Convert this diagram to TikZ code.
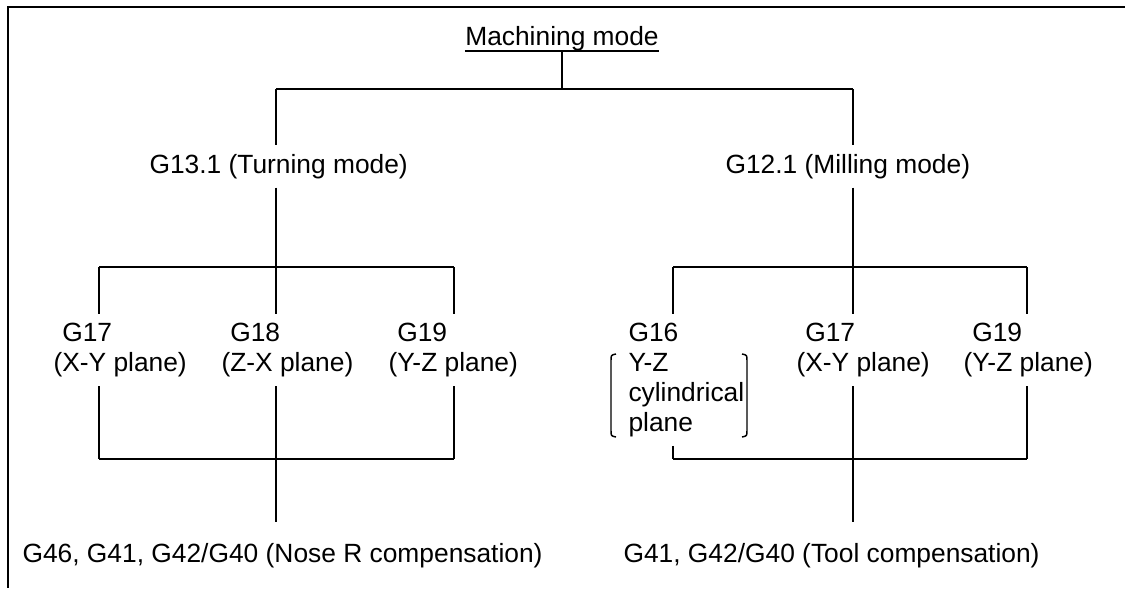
\documentclass[tikz,border=0pt]{standalone}
\usepackage{fontspec}
\setmainfont{Liberation Sans}

\begin{document}
\begin{tikzpicture}[x=0.013333cm, y=-0.013333cm,
  every node/.style={font=\fontsize{10}{11.34}\selectfont, inner xsep=0pt, inner ysep=3.3pt},
  plane/.style={anchor=north west, align=left},
  tree/.style={line width=0.55pt},
  busline/.style={line width=0.65pt},
  result/.style={anchor=base west, inner ysep=7.9pt}]
  \def\ytop{89}
  \def\yup{267}
  \def\ylow{459}
  \useasboundingbox (0,0) rectangle (1125,588);
  \draw[line width=0.8pt] (1125,7) -- (8,7) -- (8,588);
  \node[anchor=base, inner ysep=0pt] (mach) at (562,45) {Machining mode};
  \draw[tree] (mach.south west) -- (mach.south east);
  \node[anchor=base west] (turn) at (149,173) {G13.1 (Turning mode)};
  \node[anchor=base west] (mill) at (725,173) {G12.1 (Milling mode)};
  \coordinate (tl) at (276,\ytop);
  \coordinate (tr) at (853,\ytop);
  \draw[tree] (mach.south) -- (mach.south |- tl);
  \draw[busline] (tl) -- (tr);
  \draw[tree] (tl) -- (tl |- turn.north);
  \draw[tree] (tr) -- (tr |- mill.north);
  \node[plane] (tx) at (53,314) {\hphantom{(}G17\\(X-Y plane)};
  \node[plane] (tz) at (221,314) {\hphantom{(}G18\\(Z-X plane)};
  \node[plane] (ty) at (388,314) {\hphantom{(}G19\\(Y-Z plane)};
  \node[plane] (mc) at (628,314) {G16\\Y-Z\\cylindrical\\plane};
  \node[plane] (mx) at (796,314) {\hphantom{(}G17\\(X-Y plane)};
  \node[plane] (my) at (963,314) {\hphantom{(}G19\\(Y-Z plane)};
  \foreach \nm/\xx in {tx/99, tz/276, ty/454, mc/673, mx/853, my/1027}{
    \coordinate (\nm-up) at (\xx,\yup);
    \coordinate (\nm-low) at (\xx,\ylow);
    \draw[tree] (\nm-up) -- (\nm-up |- \nm.north);
    \draw[tree] (\nm-low |- \nm.south) -- (\nm-low);
  }
  \draw[busline] (tx-up) -- (ty-up);
  \draw[busline] (tx-low) -- (ty-low);
  \draw[busline] (mc-up) -- (my-up);
  \draw[busline] (mc-low) -- (my-low);
  \draw[tree] (turn.south -| tz-up) -- (tz-up);
  \draw[tree] (mill.south -| mx-up) -- (mx-up);
  \draw[tree] (616,354) .. controls (611,355) .. (611,361) -- (611,430) .. controls (611,436) .. (616,437);
  \draw[tree] (742,354) .. controls (747,355) .. (747,361) -- (747,430) .. controls (747,436) .. (742,437);
  \node[result] (nose) at (22,562) {G46, G41, G42/G40 (Nose R compensation)};
  \node[result] (toolc) at (623,562) {G41, G42/G40 (Tool compensation)};
  \draw[tree] (tz-low) -- (tz-low |- nose.north);
  \draw[tree] (mx-low) -- (mx-low |- toolc.north);
\end{tikzpicture}
\end{document}
